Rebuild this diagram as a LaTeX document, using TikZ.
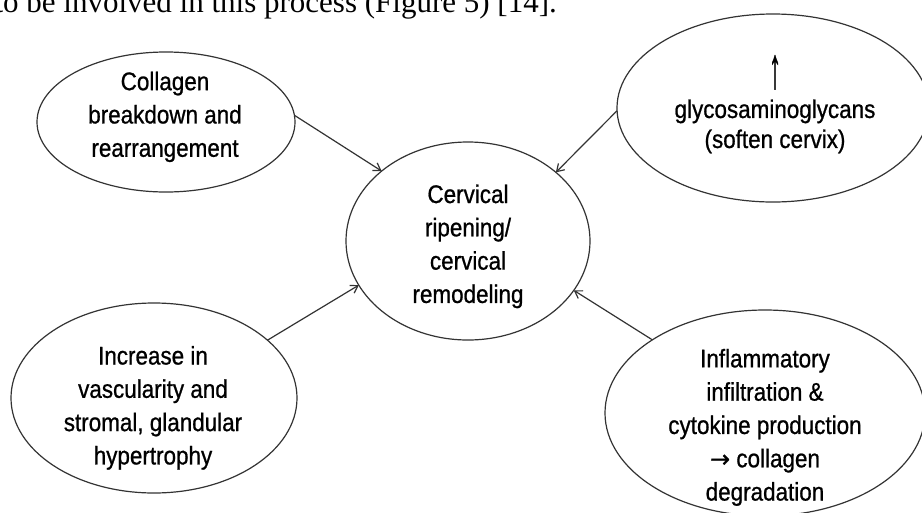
\documentclass[tikz,border=0pt]{standalone}
\usepackage{fontspec}
\setmainfont{Liberation Sans}[FakeStretch=0.88,FakeBold=0.8]
\newfontfamily\pageserif{Liberation Serif}
\newfontfamily\arrowfont{DejaVu Sans}[FakeBold=0.8]
\usetikzlibrary{shapes.geometric,arrows.meta}
\begin{document}
\begin{tikzpicture}[x=1pt,y=-1pt,
  bubble/.style={draw=black!80, line width=1.2pt, ellipse, inner sep=0pt, outer sep=0pt},
  lbl/.style={align=center, inner sep=0pt, text=black, font=\fontsize{25.5}{33.3}\selectfont},
  link/.style={draw=black!80, line width=1.2pt, -{Straight Barb[length=7pt,width=9pt]}}]
\useasboundingbox (0,0) rectangle (922,512);
\clip (0,0) rectangle (922,512);
\fill[white] (0,0) rectangle (922,512);
\node[font=\pageserif\fontsize{31}{36}\selectfont, anchor=base east, inner sep=0pt, text=black] (pagetxt) at (557,12) {to be involved in this process (Figure 5) [14].};
% ellipses
\node[bubble, minimum width=258pt, minimum height=140pt] (tl) at (166,122) {};
\node[bubble, minimum width=312pt, minimum height=188pt] (tr) at (773,108) {};
\node[bubble, minimum width=244pt, minimum height=198pt] (c) at (468,241) {};
\node[bubble, minimum width=286pt, minimum height=190pt] (bl) at (154,398) {};
\node[bubble, minimum width=320pt, minimum height=206pt] (br) at (765,413) {};
% texts
\node[lbl] (tltext) at (165,116.8) {\strut Collagen\\breakdown and\\rearrangement\strut};
\node[lbl, font=\fontsize{25.5}{30}\selectfont] (trtext) at (775,106) {\strut\scalebox{1.1}[2.3]{↑}\\glycosaminoglycans\\(soften cervix)\strut};
\node[lbl] (ctext) at (468,246.3) {\strut Cervical\\ripening/\\cervical\\remodeling\strut};
\node[lbl] (bltext) at (153,407.8) {\strut Increase in\\vascularity and\\stromal, glandular\\hypertrophy\strut};
\node[lbl] (brtext) at (765,427.3) {\strut Inflammatory\\infiltration \&\\cytokine production\\{\arrowfont\fontsize{24}{33.3}\selectfont →} collagen\\degradation\strut};
% connectors
\draw[link] (tl.3.6) -- (c.141.3);
\draw[link] (tr.181) -- (c.38.6);
\draw[link] (bl.27) -- (c.202.2);
\draw[link] (br.147.1) -- (c.335.8);
\end{tikzpicture}
\end{document}
